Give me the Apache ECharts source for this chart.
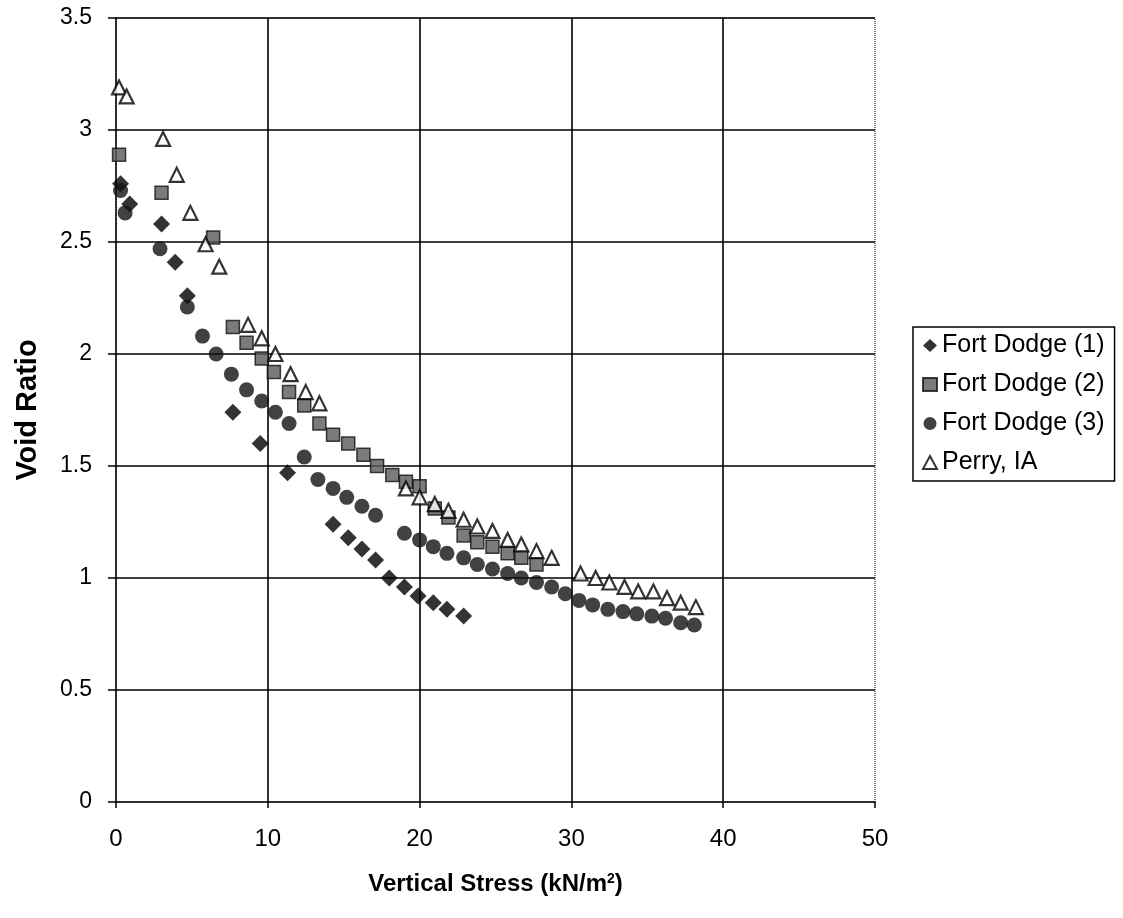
<!DOCTYPE html>
<html>
<head>
<meta charset="utf-8">
<script src="https://cdn.jsdelivr.net/npm/echarts@6/dist/echarts.min.js"></script>
<style>html,body{margin:0;padding:0;background:#fff}#c{width:1123px;height:918px}</style>
</head>
<body>
<div id="c"></div>
<script>
// Fort Dodge (1) – diamonds
var fd1X = [0.3, 0.9, 3.0, 3.9, 4.7, 7.7, 9.5, 11.3, 14.3, 15.3, 16.2, 17.1, 18.0, 19.0, 19.9, 20.9, 21.8, 22.9];
var fd1Y = [2.76, 2.67, 2.58, 2.41, 2.26, 1.74, 1.60, 1.47, 1.24, 1.18, 1.13, 1.08, 1.00, 0.96, 0.92, 0.89, 0.86, 0.83];
// Fort Dodge (2) – textured squares
var fd2X = [0.2, 3.0, 6.4, 7.7, 8.6, 9.6, 10.4, 11.4, 12.4, 13.4, 14.3, 15.3, 16.3, 17.2, 18.2, 19.1, 20.0, 21.0, 21.9, 22.9, 23.8, 24.8, 25.8, 26.7, 27.7];
var fd2Y = [2.89, 2.72, 2.52, 2.12, 2.05, 1.98, 1.92, 1.83, 1.77, 1.69, 1.64, 1.60, 1.55, 1.50, 1.46, 1.43, 1.41, 1.31, 1.27, 1.19, 1.16, 1.14, 1.11, 1.09, 1.06];
// Fort Dodge (3) – circles
var fd3X = [0.3, 0.6, 2.9, 4.7, 5.7, 6.6, 7.6, 8.6, 9.6, 10.5, 11.4, 12.4, 13.3, 14.3, 15.2, 16.2, 17.1, 19.0, 20.0, 20.9, 21.8, 22.9, 23.8, 24.8, 25.8, 26.7, 27.7, 28.7, 29.6, 30.5, 31.4, 32.4, 33.4, 34.3, 35.3, 36.2, 37.2, 38.1];
var fd3Y = [2.73, 2.63, 2.47, 2.21, 2.08, 2.00, 1.91, 1.84, 1.79, 1.74, 1.69, 1.54, 1.44, 1.40, 1.36, 1.32, 1.28, 1.20, 1.17, 1.14, 1.11, 1.09, 1.06, 1.04, 1.02, 1.00, 0.98, 0.96, 0.93, 0.90, 0.88, 0.86, 0.85, 0.84, 0.83, 0.82, 0.80, 0.79];
// Perry, IA – hollow triangles
var perX = [0.2, 0.7, 3.1, 4.0, 4.9, 5.9, 6.8, 8.7, 9.6, 10.5, 11.5, 12.5, 13.4, 19.1, 20.0, 21.0, 21.9, 22.9, 23.8, 24.8, 25.8, 26.7, 27.7, 28.7, 30.6, 31.6, 32.5, 33.5, 34.4, 35.4, 36.3, 37.2, 38.2];
var perY = [3.19, 3.15, 2.96, 2.80, 2.63, 2.49, 2.39, 2.13, 2.07, 2.00, 1.91, 1.83, 1.78, 1.40, 1.36, 1.33, 1.30, 1.26, 1.23, 1.21, 1.17, 1.15, 1.12, 1.09, 1.02, 1.00, 0.98, 0.96, 0.94, 0.94, 0.91, 0.89, 0.87];

var seriesNames = ['Fort Dodge (1)', 'Fort Dodge (2)', 'Fort Dodge (3)', 'Perry, IA'];
var xTicks = [0, 10, 20, 30, 40, 50];
var yTicks = [0, 0.5, 1, 1.5, 2, 2.5, 3, 3.5];

function pairs(xs, ys) { return xs.map(function (x, i) { return [x, ys[i]]; }); }

var FONT = '"Liberation Sans", Arial, sans-serif';
var chart = echarts.init(document.getElementById('c'), null, { renderer: 'canvas' });
chart.setOption({
  backgroundColor: '#fff',
  animation: false,
  grid: { left: 116, top: 18, width: 759, height: 784, show: true, borderColor: '#000', borderWidth: 1, borderType: 'dotted', backgroundColor: 'transparent' },
  legend: {
    orient: 'vertical', left: 913, top: 327,
    data: seriesNames,
    itemWidth: 14, itemHeight: 13, itemGap: 14,
    padding: [6, 10, 6, 9],
    borderColor: '#000', borderWidth: 1.5,
    textStyle: { fontFamily: FONT, fontSize: 25, color: '#000' }
  },
  xAxis: {
    type: 'value', min: xTicks[0], max: xTicks[xTicks.length - 1], interval: 10,
    name: 'Vertical Stress (kN/m{sup|2})', nameLocation: 'middle', nameGap: 70,
    nameTextStyle: { fontFamily: FONT, fontSize: 24, fontWeight: 'bold', color: '#000',
      rich: { sup: { fontFamily: FONT, fontSize: 14, fontWeight: 'bold', color: '#000', verticalAlign: 'top', padding: [0, 0, 10, 0] } } },
    axisLine: { show: true, onZero: false, lineStyle: { color: '#000', width: 1.5 } },
    axisTick: { show: true, inside: false, length: 6, lineStyle: { color: '#000', width: 1.5 } },
    axisLabel: { fontFamily: FONT, fontSize: 24, color: '#000', margin: 25 },
    splitLine: { show: true, showMinLine: false, showMaxLine: false, lineStyle: { color: '#000', width: 1.6 } }
  },
  yAxis: {
    type: 'value', min: yTicks[0], max: yTicks[yTicks.length - 1], interval: 0.5,
    name: 'Void Ratio', nameLocation: 'middle', nameGap: 74,
    nameTextStyle: { fontFamily: FONT, fontSize: 29, fontWeight: 'bold', color: '#000' },
    axisLine: { show: true, onZero: false, lineStyle: { color: '#000', width: 1.5 } },
    axisTick: { show: true, inside: false, length: 8, lineStyle: { color: '#000', width: 1.5 } },
    axisLabel: { fontFamily: FONT, fontSize: 23, color: '#000', margin: 24 },
    splitLine: { show: true, showMinLine: false, showMaxLine: true, lineStyle: { color: '#000', width: 1.6 } }
  },
  series: [
    { name: seriesNames[0], type: 'scatter', symbol: 'diamond', symbolSize: 17, data: pairs(fd1X, fd1Y),
      itemStyle: { color: '#000' } },
    { name: seriesNames[1], type: 'scatter', symbol: 'rect', symbolSize: 13, data: pairs(fd2X, fd2Y),
      itemStyle: { color: '#5a5a5a', borderColor: '#111', borderWidth: 1.5 } },
    { name: seriesNames[2], type: 'scatter', symbol: 'circle', symbolSize: 15, data: pairs(fd3X, fd3Y),
      itemStyle: { color: '#111' } },
    { name: seriesNames[3], type: 'scatter', symbol: 'triangle', symbolSize: 14, data: pairs(perX, perY),
      itemStyle: { color: '#fff', borderColor: '#000', borderWidth: 2.2 } }
  ]
});
</script>
</body>
</html>
